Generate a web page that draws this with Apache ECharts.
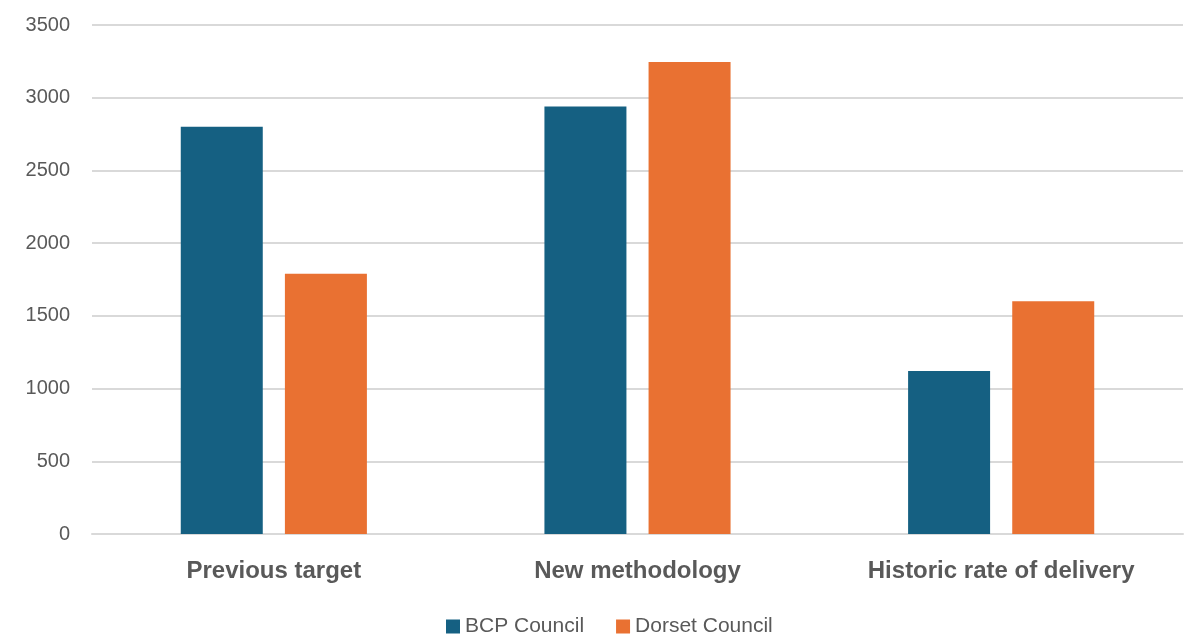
<!DOCTYPE html>
<html>
<head>
<meta charset="utf-8">
<script src="https://cdn.jsdelivr.net/npm/echarts@6/dist/echarts.min.js"></script>
<style>
  html, body { margin: 0; padding: 0; background: #fff; }
  #chart { width: 1190px; height: 642px; }
</style>
</head>
<body>
<div id="chart"></div>
<script>
// 数据
var categories = ['Previous target', 'New methodology', 'Historic rate of delivery'];
var bcpValues = [2800, 2940, 1120];
var dorsetValues = [1790, 3245, 1600];
var yTicks = { min: 0, max: 3500, interval: 500 };

var myChart = echarts.init(document.getElementById('chart'));
var textColor = '#595959';

var option = {
  animation: false,
  grid: { left: 92, right: 7, top: 25, bottom: 108 },
  legend: {
    bottom: 0,
    left: 441,
    itemWidth: 14,
    itemHeight: 14,
    itemGap: 32,
    icon: 'rect',
    textStyle: { color: textColor, fontSize: 21, fontFamily: 'Liberation Sans' },
    data: ['BCP Council', 'Dorset Council']
  },
  xAxis: {
    type: 'category',
    data: categories,
    axisLine: { lineStyle: { color: '#D9D9D9', width: 2 } },
    axisTick: { show: false },
    axisLabel: { color: textColor, fontSize: 24, fontWeight: 'bold', fontFamily: 'Liberation Sans', margin: 25 }
  },
  yAxis: {
    type: 'value',
    min: yTicks.min,
    max: yTicks.max,
    interval: yTicks.interval,
    axisLine: { show: false },
    axisTick: { show: false },
    splitLine: { lineStyle: { color: '#D9D9D9', width: 2 } },
    axisLabel: {
      color: textColor, fontSize: 20, fontFamily: 'Liberation Sans', margin: 22,
      formatter: function (v) { return String(v); }
    }
  },
  series: [
    {
      name: 'BCP Council',
      type: 'bar',
      data: bcpValues,
      barWidth: 82,
      barGap: '27%',
      itemStyle: { color: '#156082' }
    },
    {
      name: 'Dorset Council',
      type: 'bar',
      data: dorsetValues,
      barWidth: 82,
      itemStyle: { color: '#E97132' }
    }
  ]
};

myChart.setOption(option);
</script>
</body>
</html>
